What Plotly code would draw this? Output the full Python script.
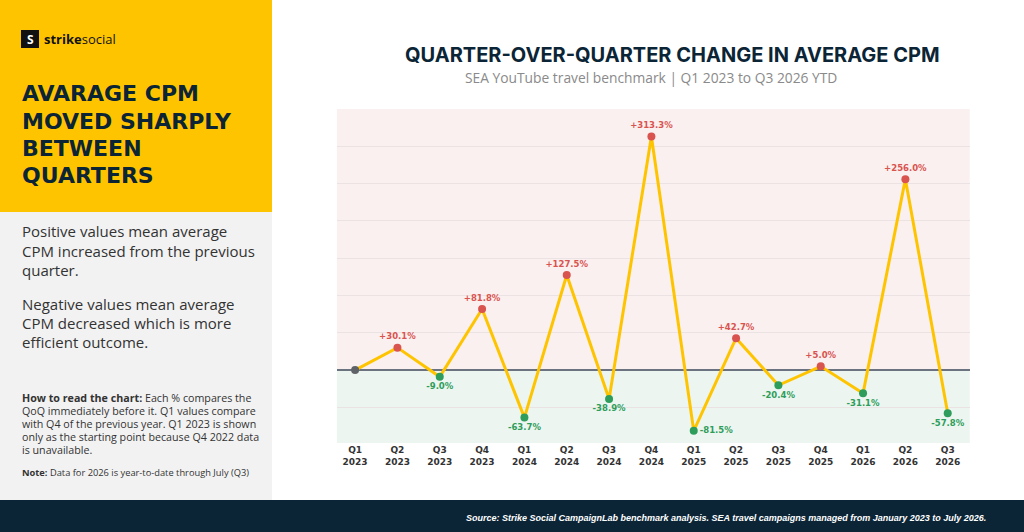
import plotly.graph_objects as go

# data
quarters = ["Q1 2023", "Q2 2023", "Q3 2023", "Q4 2023",
            "Q1 2024", "Q2 2024", "Q3 2024", "Q4 2024",
            "Q1 2025", "Q2 2025", "Q3 2025", "Q4 2025",
            "Q1 2026", "Q2 2026", "Q3 2026"]
qoq_change = [0.0, 30.1, -9.0, 81.8, -63.7, 127.5, -38.9, 313.3,
              -81.5, 42.7, -20.4, 5.0, -31.1, 256.0, -57.8]
tick_labels = ["<b>" + q.replace(" ", "<br>") + "</b>" for q in quarters]

NAVY = "#0b2536"
YELLOW = "#ffc400"
RED = "#d9534f"
GREEN = "#2e9d5b"
FONT = "Open Sans"

xs = list(range(len(quarters)))

marker_colors = []
labels = []
positions = []
for i, v in enumerate(qoq_change):
    if i == 0:
        marker_colors.append("#5f6368")
        labels.append("")
        positions.append("top center")
    elif v >= 0:
        marker_colors.append(RED)
        labels.append(f"<b>+{v:.1f}%</b>")
        positions.append("top center")
    else:
        marker_colors.append(GREEN)
        labels.append(f"<b>{v:.1f}%</b>")
        positions.append("bottom center")
# Q1 2025 label sits to the right of its point
positions[8] = "middle right"
label_colors = [RED if v >= 0 else GREEN for v in qoq_change]

fig = go.Figure()

fig.add_trace(go.Scatter(
    x=xs, y=qoq_change, mode="lines",
    line=dict(color=YELLOW, width=3),
    hoverinfo="skip", showlegend=False,
))
fig.add_trace(go.Scatter(
    x=xs, y=qoq_change, mode="markers+text",
    marker=dict(size=8, color=marker_colors),
    text=labels, textposition=positions,
    textfont=dict(family="DejaVu Sans", size=8.5, color=label_colors),
    showlegend=False,
))

fig.update_xaxes(
    domain=[0.329, 0.947],
    range=[-0.43, 14.52],
    tickmode="array", tickvals=xs, ticktext=tick_labels,
    tickfont=dict(family="DejaVu Sans", size=9, color="#333333"),
    showgrid=False, zeroline=False, showline=False, ticks="",
)
fig.update_yaxes(
    domain=[0.167, 0.795],
    range=[-98, 350],
    dtick=50, showticklabels=False,
    gridcolor="#ebe3e3", gridwidth=1,
    zeroline=True, zerolinecolor="#6b7280", zerolinewidth=2,
)

shapes = [
    # left panel blocks
    dict(type="rect", xref="paper", yref="paper", x0=0, x1=272/1024, y0=1-212/532, y1=1,
         fillcolor=YELLOW, line_width=0, layer="below"),
    dict(type="rect", xref="paper", yref="paper", x0=0, x1=272/1024, y0=32/532, y1=1-212/532,
         fillcolor="#f2f2f2", line_width=0, layer="below"),
    # footer band
    dict(type="rect", xref="paper", yref="paper", x0=0, x1=1, y0=0, y1=32/532,
         fillcolor=NAVY, line_width=0, layer="below"),
    # positive / negative zones
    dict(type="rect", xref="x domain", yref="y", x0=0, x1=1, y0=0, y1=350,
         fillcolor="#f9f0ef", line_width=0, layer="below"),
    dict(type="rect", xref="x domain", yref="y", x0=0, x1=1, y0=-98, y1=0,
         fillcolor="#ecf5ef", line_width=0, layer="below"),
    # logo box
    dict(type="rect", xref="paper", yref="paper", x0=21/1024, x1=39/1024,
         y0=1-48/532, y1=1-30/532, fillcolor="#111111", line_width=0),
]


def px_x(v):
    return v / 1024


def px_y(v):
    return 1 - v / 532


ann = []


def note(x, y, text, size, color=NAVY, anchor="left", family=FONT, yanchor="middle"):
    ann.append(dict(xref="paper", yref="paper", x=px_x(x), y=px_y(y), text=text,
                    showarrow=False, xanchor=anchor, yanchor=yanchor, align=anchor,
                    font=dict(family=family, size=size, color=color)))


# logo
note(30, 39, "<b>S</b>", 12, color="white", anchor="center")
note(42, 39, "<b>strike</b>social", 13, color="#111111")

# left title
for i, line in enumerate(["AVARAGE CPM", "MOVED SHARPLY", "BETWEEN", "QUARTERS"]):
    note(20, 94 + i * 27, "<b>" + line + "</b>", 22, family="DejaVu Sans")

# left explanation
body = ["Positive values mean average", "CPM increased from the previous", "quarter.",
        "Negative values mean average", "CPM decreased which is more",
        "efficient outcome."]
body_y = [231, 250.5, 270, 304, 323, 342]
for line, y in zip(body, body_y):
    note(20, y, line, 15, color="#333333")

how = ["<b>How to read the chart:</b> Each % compares the",
       "QoQ immediately before it. Q1 values compare",
       "with Q4 of the previous year. Q1 2023 is shown",
       "only as the starting point because Q4 2022 data",
       "is unavailable."]
for i, line in enumerate(how):
    note(20, 398 + i * 13, line, 10.7, color="#333333")
note(20, 472, "<b>Note:</b> Data for 2026 is year-to-date through July (Q3)", 9.3, color="#333333")

# chart title and subtitle
note(672, 55, "<b>QUARTER-OVER-QUARTER CHANGE IN AVERAGE CPM</b>", 20, family="Inter", anchor="center")
note(651, 77, "SEA YouTube travel benchmark | Q1 2023 to Q3 2026 YTD", 13.8,
     color="#8a8a8a", anchor="center")

# footer source
note(988, 518, "<b><i>Source: Strike Social CampaignLab benchmark analysis. "
     "SEA travel campaigns managed from January 2023 to July 2026.</i></b>",
     9, color="white", anchor="right", family="Liberation Sans")

fig.update_layout(
    width=1024, height=532,
    margin=dict(l=0, r=0, t=0, b=0),
    paper_bgcolor="white", plot_bgcolor="white",
    shapes=shapes, annotations=ann,
    showlegend=False,
)

fig.write_html("out.html", config={"displayModeBar": False},
               post_script="document.body.style.margin='0';")
